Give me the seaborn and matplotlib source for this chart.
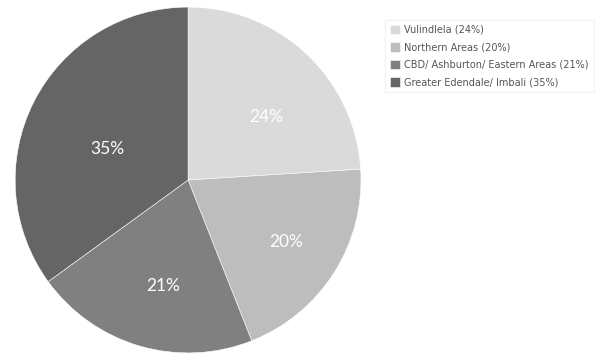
import numpy as np
import matplotlib
matplotlib.use("Agg")
import matplotlib.pyplot as plt
import seaborn as sns

# Share of households by area
areas = ["Vulindlela", "Northern Areas", "CBD/ Ashburton/ Eastern Areas", "Greater Edendale/ Imbali"]
shares = [24, 20, 21, 35]
slice_colors = ["#dadada", "#bdbdbd", "#808080", "#656565"]

sns.set_theme(style="white")
palette = sns.color_palette(slice_colors)

fig = plt.figure(figsize=(5.99, 3.54), dpi=100)
ax = fig.add_axes([0.025, 0.003, 0.578, 0.977])

wedges, _, autotexts = ax.pie(
    shares,
    colors=palette,
    startangle=90,
    counterclock=False,
    autopct="%d%%",
    pctdistance=0.6,
    wedgeprops=dict(edgecolor="white", linewidth=0.4),
    textprops=dict(color="white", fontsize=12.5, family=["Lato", "DejaVu Sans"]),
)

# place each percentage label along its wedge's bisector
label_radius = [0.58, 0.67, 0.63, 0.50]
label_shift = [-8, 0, 3, 6]  # degrees
for w, t, r, s in zip(wedges, autotexts, label_radius, label_shift):
    mid = np.deg2rad((w.theta1 + w.theta2) / 2 + s)
    t.set_position((r * np.cos(mid), r * np.sin(mid)))

ax.set_xlim(-1, 1)
ax.set_ylim(-1, 1)
ax.set_aspect("equal")
ax.axis("off")

labels = [f"{a} ({v}%)" for a, v in zip(areas, shares)]
leg = fig.legend(
    wedges, labels,
    loc="upper left",
    bbox_to_anchor=(380 / 599, 1 - 15 / 354),
    fontsize=7,
    handlelength=1.1,
    handleheight=1.1,
    handletextpad=0.4,
    labelspacing=0.78,
    borderpad=0.5,
    frameon=True,
    fancybox=False,
)
leg.get_frame().set_facecolor("white")
leg.get_frame().set_edgecolor("#f0f0f0")
for txt in leg.get_texts():
    txt.set_color("#555555")

fig.savefig("out.png", dpi=100, facecolor="white")
